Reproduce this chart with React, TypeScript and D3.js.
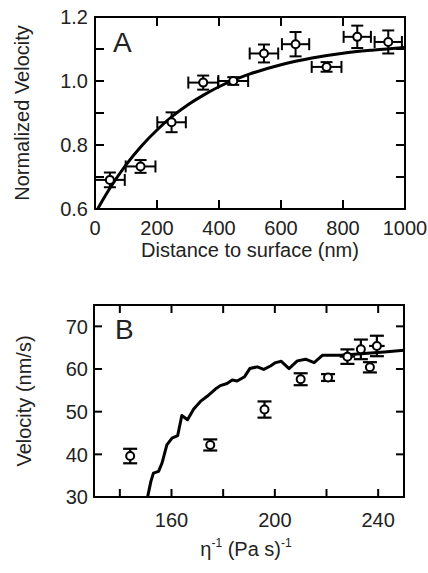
import React from "react";
import * as d3 from "d3";

// ---------- Panel A data ----------
const aX = [48, 147, 247, 349, 446, 545, 647, 747, 846, 946];
const aY = [0.691, 0.733, 0.871, 0.995, 1.0, 1.086, 1.115, 1.044, 1.138, 1.122];
const aXErr = [48, 48, 46, 48, 48, 46, 44, 48, 44, 44];
const aYErr = [0.023, 0.02, 0.031, 0.022, 0.012, 0.028, 0.038, 0.015, 0.035, 0.036];
const aFitX = [0, 25, 50, 100, 150, 200, 250, 300, 350, 400, 500, 600, 700, 800, 900, 1000];
const aFitY = [0.585, 0.628, 0.668, 0.738, 0.797, 0.847, 0.89, 0.926, 0.956, 0.982, 1.022, 1.051, 1.072, 1.087, 1.097, 1.105];
const aXTicks = [0, 200, 400, 600, 800, 1000];
const aYTicks = [0.6, 0.7, 0.8, 0.9, 1.0, 1.1, 1.2];
const aYLabels = [0.6, 0.8, 1.0, 1.2];

// ---------- Panel B data ----------
const bX = [144.0, 175.0, 196.0, 210.0, 220.6, 228.1, 233.3, 236.8, 239.5];
const bY = [39.6, 42.2, 50.5, 57.6, 58.0, 62.9, 64.6, 60.4, 65.4];
const bYErr = [1.7, 1.3, 1.9, 1.4, 0.8, 1.7, 2.3, 1.2, 2.4];
const bXErr = [0, 0, 0, 0, 0, 3, 0, 0, 3];
const bCurveX = [150.4, 152.0, 153.0, 155.0, 156.3, 158.2, 160.2, 162.4, 164.0, 166.2, 168.6, 171.2, 173.8, 177.0, 178.9, 181.5, 183.5, 185.4, 188.3, 190.3, 193.2, 195.7, 198.3, 200.3, 202.5, 205.5, 208.7, 211.9, 215.2, 218.4, 225.5, 229.4, 242.4, 250];
const bCurveY = [29.0, 33.6, 35.6, 36.0, 37.9, 42.2, 43.8, 44.4, 49.1, 48.1, 50.6, 52.4, 53.6, 55.3, 56.1, 56.6, 57.4, 57.2, 58.2, 60.1, 60.5, 59.9, 60.7, 61.5, 61.8, 60.1, 61.9, 62.3, 61.5, 63.2, 63.2, 63.4, 64.0, 64.4];
const bXTicks = [140, 160, 180, 200, 220, 240];
const bXLabels = [160, 200, 240];
const bYTicks = [30, 40, 50, 60, 70];

const FONT = "'Liberation Sans', Arial, Helvetica, sans-serif";
const TXT = "#222";

function Frame({ x, y, xTicks, yTicks, tl }: any) {
  const [x0, x1] = x.range();
  const [y0, y1] = y.range(); // y0 bottom, y1 top
  return (
    <g stroke="#000" strokeWidth={2} fill="none">
      <rect x={x0} y={y1} width={x1 - x0} height={y0 - y1} />
      {xTicks.map((t: number, i: number) => (
        <g key={"xt" + i}>
          <line x1={x(t)} x2={x(t)} y1={y0} y2={y0 - tl} />
          <line x1={x(t)} x2={x(t)} y1={y1} y2={y1 + tl} />
        </g>
      ))}
      {yTicks.map((t: number, i: number) => (
        <g key={"yt" + i}>
          <line x1={x0} x2={x0 + tl} y1={y(t)} y2={y(t)} />
          <line x1={x1} x2={x1 - tl} y1={y(t)} y2={y(t)} />
        </g>
      ))}
    </g>
  );
}

export default function App() {
  // Panel A
  const ax = d3.scaleLinear().domain([0, 1000]).range([95, 405]);
  const ay = d3.scaleLinear().domain([0.6, 1.2]).range([209, 17]);
  // Panel B
  const bx = d3.scaleLinear().domain([130, 250]).range([94, 404]);
  const by = d3.scaleLinear().domain([30, 75]).range([497, 305]);

  const aLine = d3.line<number>().x((d, i) => ax(aFitX[i])).y((d) => ay(d)).curve(d3.curveMonotoneX);
  const bLine = d3.line<number>().x((d, i) => bx(bCurveX[i])).y((d) => by(d));

  const capA = 6;
  const capB = 7;

  return (
    <div style={{ position: "absolute", left: 0, top: 0 }}>
      <svg width={428} height={573} viewBox="0 0 428 573" style={{ display: "block", background: "#fff" }}>
        <defs>
          <clipPath id="clipA">
            <rect x={95} y={17} width={310} height={192} />
          </clipPath>
          <clipPath id="clipB">
            <rect x={94} y={305} width={310} height={192} />
          </clipPath>
        </defs>
        <rect x={0} y={0} width={428} height={573} fill="#fff" />

        {/* ---------- Panel A ---------- */}
        <path d={aLine(aFitY) || ""} fill="none" stroke="#000" strokeWidth={3} clipPath="url(#clipA)" />
        <g stroke="#000" strokeWidth={2} fill="none">
          {aX.map((xv, i) => {
            const cx = ax(xv), cy = ay(aY[i]);
            const xl = ax(Math.max(0, xv - aXErr[i])), xr = ax(Math.min(1000, xv + aXErr[i]));
            const yt = ay(aY[i] + aYErr[i]), yb = ay(aY[i] - aYErr[i]);
            return (
              <g key={"ea" + i}>
                <line x1={xl} x2={xr} y1={cy} y2={cy} />
                <line x1={xl} x2={xl} y1={cy - capA} y2={cy + capA} />
                <line x1={xr} x2={xr} y1={cy - capA} y2={cy + capA} />
                <line x1={cx} x2={cx} y1={yt} y2={yb} />
                <line x1={cx - capA} x2={cx + capA} y1={yt} y2={yt} />
                <line x1={cx - capA} x2={cx + capA} y1={yb} y2={yb} />
              </g>
            );
          })}
        </g>
        <g stroke="#000" strokeWidth={2} fill="#fff">
          {aX.map((xv, i) => (
            <circle key={"ca" + i} cx={ax(xv)} cy={ay(aY[i])} r={4} />
          ))}
        </g>
        <Frame x={ax} y={ay} xTicks={aXTicks} yTicks={aYTicks} tl={9} />
        <g fontFamily={FONT} fontSize={20} fill={TXT}>
          {aYLabels.map((t, i) => (
            <text key={"ayl" + i} x={88} y={ay(t)} dy="0.36em" textAnchor="end">
              {d3.format(".1f")(t)}
            </text>
          ))}
          {aXTicks.map((t, i) => (
            <text key={"axl" + i} x={ax(t)} y={235} textAnchor="middle">
              {t}
            </text>
          ))}
          <text x={250} y={257} textAnchor="middle">Distance to surface (nm)</text>
          <text transform="translate(29,113) rotate(-90)" textAnchor="middle">Normalized Velocity</text>
          <text x={113} y={52} fontSize={28}>A</text>
        </g>

        {/* ---------- Panel B ---------- */}
        <path d={bLine(bCurveY) || ""} fill="none" stroke="#000" strokeWidth={3} strokeLinejoin="round" clipPath="url(#clipB)" />
        <g stroke="#000" strokeWidth={2.2} fill="none">
          {bX.map((xv, i) => {
            const cx = bx(xv), cy = by(bY[i]);
            const yt = by(bY[i] + bYErr[i]), yb = by(bY[i] - bYErr[i]);
            const xl = bx(xv - bXErr[i]), xr = bx(xv + bXErr[i]);
            return (
              <g key={"eb" + i}>
                <line x1={cx} x2={cx} y1={yt} y2={yb} />
                <line x1={cx - capB} x2={cx + capB} y1={yt} y2={yt} />
                <line x1={cx - capB} x2={cx + capB} y1={yb} y2={yb} />
                {bXErr[i] > 0 && <line x1={xl} x2={xr} y1={cy} y2={cy} />}
              </g>
            );
          })}
        </g>
        <g stroke="#000" strokeWidth={2} fill="#fff">
          {bX.map((xv, i) => (
            <circle key={"cb" + i} cx={bx(xv)} cy={by(bY[i])} r={4} />
          ))}
        </g>
        <Frame x={bx} y={by} xTicks={bXTicks} yTicks={bYTicks} tl={8} />
        <g fontFamily={FONT} fontSize={20} fill={TXT}>
          {bYTicks.map((t, i) => (
            <text key={"byl" + i} x={88} y={by(t)} dy="0.36em" textAnchor="end">
              {t}
            </text>
          ))}
          {bXLabels.map((t, i) => (
            <text key={"bxl" + i} x={bx(t)} y={527} textAnchor="middle">
              {t}
            </text>
          ))}
          <text x={246} y={556} textAnchor="middle">
            <tspan>η</tspan>
            <tspan fontSize={12} dy={-9}>-1</tspan>
            <tspan dy={9}> (Pa s)</tspan>
            <tspan fontSize={12} dy={-9}>-1</tspan>
          </text>
          <text transform="translate(31,401) rotate(-90)" textAnchor="middle">Velocity (nm/s)</text>
          <text x={115} y={339} fontSize={28}>B</text>
        </g>
      </svg>
    </div>
  );
}
